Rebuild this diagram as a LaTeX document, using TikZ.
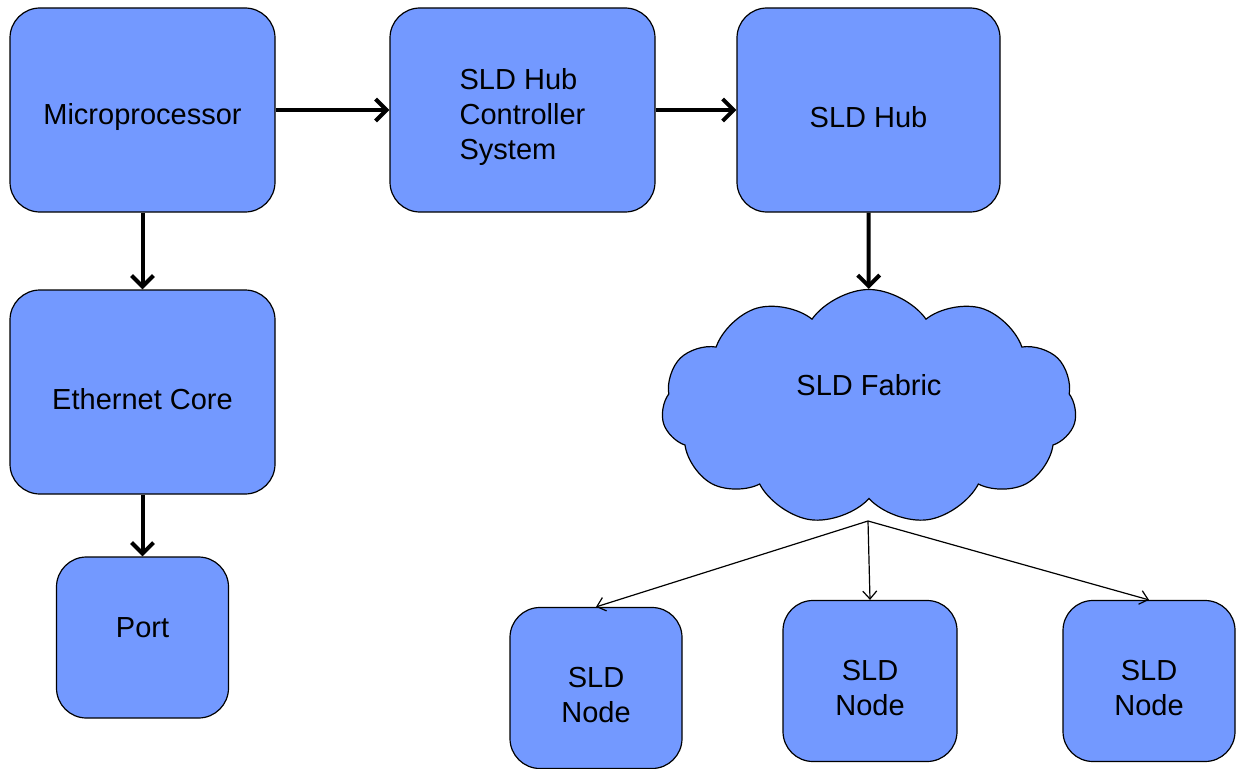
\documentclass[tikz,border=0pt]{standalone}
\usepackage{fontspec}
\setmainfont{Liberation Sans}
\usetikzlibrary{arrows.meta,shapes.symbols}
\definecolor{boxblue}{RGB}{115,153,255}

\begin{document}
\begin{tikzpicture}[x=1pt, y=-1pt,
    font=\fontsize{29}{35}\selectfont,
    box/.style={draw, line width=1.2pt, fill=boxblue, rounded corners=30pt,
      inner sep=0pt, align=center, text height=35pt},
    bigbox/.style={box, minimum width=265pt, minimum height=204pt},
    smallbox/.style={box, minimum width=172pt, minimum height=161pt},
    twoline/.style={smallbox, text height=70pt},
    fabriccloud/.style={draw, line width=1.2pt, fill=boxblue, cloud,
      cloud puffs=11, cloud puff arc=110, inner sep=0pt,
      minimum width=415pt, minimum height=235pt},
    thick link/.style={line width=4pt, -{Straight Barb[length=11pt,width=22pt]}},
    thin link/.style={line width=1.2pt, -{Straight Barb[length=8pt,width=14pt]}}]
    \useasboundingbox (0,0) rectangle (1236,768);
    \node[bigbox] (micro) at (142.5,110) {Microprocessor};
    \node[bigbox, align=left, text height=105pt] (hubctl) at (522.5,110) {SLD Hub\\Controller\\System};
    \node[bigbox, minimum width=263pt] (hub) at (868.5,110) {SLD Hub};
    \node[bigbox] (eth) at (142.5,392) {Ethernet Core};
    \node[smallbox, text depth=36pt] (port) at (142.5,637.5) {Port};
    \node[fabriccloud, text depth=44pt] (fabric) at (869,407) {SLD Fabric};
    \node[twoline] (node1) at (596,688) {SLD\\Node};
    \node[twoline, minimum width=174pt] (node2) at (870,681) {SLD\\Node};
    \node[twoline] (node3) at (1149,681) {SLD\\Node};
    \coordinate (fabbot) at (868,521);
    \draw [thick link] (micro) to (hubctl);
    \draw [thick link] (hubctl) to (hub);
    \draw [thick link] (micro) to (eth);
    \draw [thick link] (eth) to (port);
    \draw [thick link] (hub.south) to (fabric);
    \draw [thin link] (fabbot) to (node1.north);
    \draw [thin link] (fabbot) to (node2.north);
    \draw [thin link] (fabbot) to (node3.north);
\end{tikzpicture}
\end{document}
